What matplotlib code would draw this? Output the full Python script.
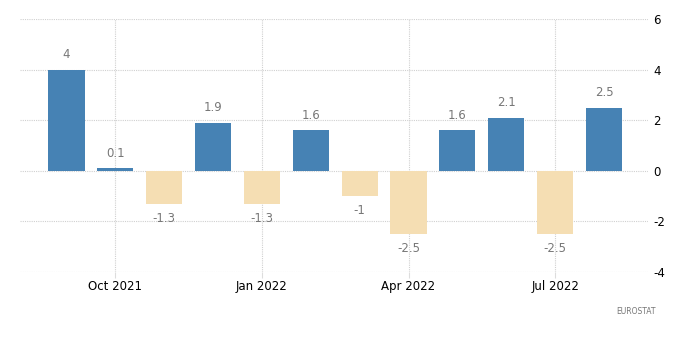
import numpy as np
import matplotlib.pyplot as plt

plt.rcParams["axes.unicode_minus"] = False

months = ["Sep 2021", "Oct 2021", "Nov 2021", "Dec 2021", "Jan 2022", "Feb 2022",
          "Mar 2022", "Apr 2022", "May 2022", "Jun 2022", "Jul 2022", "Aug 2022"]
values = [4, 0.1, -1.3, 1.9, -1.3, 1.6, -1, -2.5, 1.6, 2.1, -2.5, 2.5]
tick_idx = [1, 4, 7, 10]
tick_labels = ["Oct 2021", "Jan 2022", "Apr 2022", "Jul 2022"]
y_ticks = [-4, -2, 0, 2, 4, 6]

fig = plt.figure(figsize=(7, 3.61), dpi=100)
ax = fig.add_axes([20 / 700, 1 - 272 / 361, 628 / 700, 253 / 361])

x = np.arange(len(values))
colors = ["#4682b4" if v >= 0 else "#f5deb3" for v in values]
ax.bar(x, values, width=0.74, color=colors, zorder=3)

for xi, v in zip(x, values):
    lbl = f"{v:g}"
    if v >= 0:
        ax.annotate(lbl, (xi, v), xytext=(0, 6), textcoords="offset points",
                    ha="center", va="bottom", fontsize=8.5, color="#777777")
    else:
        ax.annotate(lbl, (xi, v), xytext=(0, -6), textcoords="offset points",
                    ha="center", va="top", fontsize=8.5, color="#777777")

ax.set_xlim(-0.95, 11.9)
ax.set_ylim(-4, 6)
ax.set_xticks(tick_idx)
ax.set_xticklabels(tick_labels, fontsize=8.5)
ax.set_yticks(y_ticks)
ax.yaxis.tick_right()
ax.tick_params(axis="y", length=0, pad=4, labelsize=8.5)
ax.tick_params(axis="x", length=4, color="#dddddd", pad=2)
ax.grid(True, linestyle=(0, (1, 1)), color="#d0d0d0", linewidth=0.8, zorder=0)
for s in ax.spines.values():
    s.set_visible(False)

fig.text(656 / 700, 1 - 311 / 361, "EUROSTAT", ha="right", va="center",
         fontsize=5.5, color="#777777")

fig.savefig("out.png", dpi=100)
